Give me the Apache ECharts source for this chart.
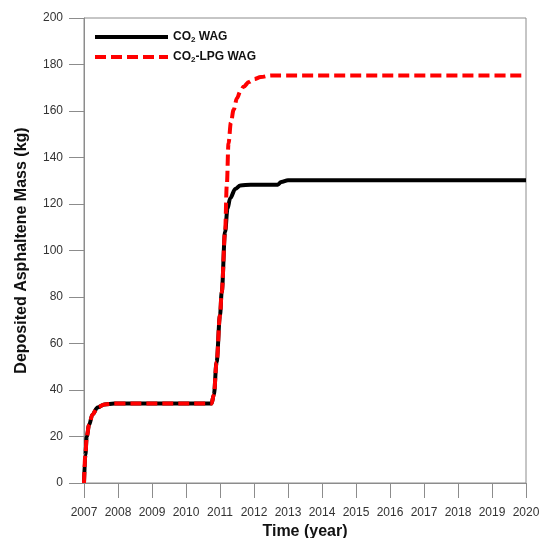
<!DOCTYPE html>
<html>
<head>
<meta charset="utf-8">
<script src="https://cdn.jsdelivr.net/npm/echarts@6/dist/echarts.min.js"></script>
<style>
  html, body { margin: 0; padding: 0; background: #fff; }
  #chart { width: 540px; height: 538px; }
</style>
</head>
<body>
<div id="chart"></div>
<script>
// Deposited asphaltene mass over time for two injection schemes
const xTicks = [2007, 2008, 2009, 2010, 2011, 2012, 2013, 2014, 2015, 2016, 2017, 2018, 2019, 2020];
const yTicks = [0, 20, 40, 60, 80, 100, 120, 140, 160, 180, 200];

const co2Years  = [2007.0, 2007.04, 2007.08, 2007.15, 2007.25, 2007.4, 2007.6, 2007.9, 2010.75, 2010.82, 2010.9, 2011.0, 2011.05, 2011.15, 2011.22, 2011.3, 2011.45, 2011.6, 2011.9, 2012.7, 2012.8, 2013.0, 2020.0];
const co2Values = [0, 12, 20, 25, 29.5, 32.5, 33.8, 34.2, 34.2, 38, 52, 72, 82, 108, 118, 122.5, 126.5, 128, 128.3, 128.3, 129.5, 130.2, 130.2];

const lpgYears  = [2007.0, 2007.04, 2007.08, 2007.15, 2007.25, 2007.4, 2007.6, 2007.9, 2010.75, 2010.82, 2010.9, 2011.0, 2011.05, 2011.15, 2011.2, 2011.25, 2011.32, 2011.4, 2011.5, 2011.6, 2011.7, 2011.85, 2012.0, 2012.2, 2012.5, 2020.0];
const lpgValues = [0, 12, 20, 25, 29.5, 32.5, 33.8, 34.2, 34.2, 38, 52, 72, 82, 108, 128, 146, 155, 160.5, 165.5, 168.5, 170.5, 172.5, 173.7, 174.6, 175.3, 175.3];

const seriesNames = ['CO2 WAG', 'CO2-LPG WAG'];
const legendLabels = {
  'CO2 WAG': '{a|CO}{s|2}{a| WAG}',
  'CO2-LPG WAG': '{a|CO}{s|2}{a|-LPG WAG}'
};

const pairs = (xs, ys) => xs.map((x, i) => [x, ys[i]]);

const FONT = '"Liberation Sans", Arial, sans-serif';
const AXIS_COLOR = '#8c8c8c';
const TICK_LEN = 15;

const chart = echarts.init(document.getElementById('chart'), null, { renderer: 'canvas' });

chart.setOption({
  animation: false,
  backgroundColor: '#ffffff',
  grid: {
    left: 84, right: 14, top: 18, bottom: 55,
    outerBoundsMode: 'none',
    containLabel: false,
    show: true, borderColor: AXIS_COLOR, borderWidth: 1, backgroundColor: 'transparent'
  },
  legend: {
    orient: 'vertical',
    left: 88, top: 26,
    itemWidth: 73, itemHeight: 10, itemGap: 7,
    data: seriesNames,
    formatter: name => legendLabels[name],
    itemStyle: { opacity: 0 },
    lineStyle: { width: 4 },
    textStyle: {
      fontFamily: FONT,
      rich: {
        a: { fontFamily: FONT, fontSize: 12, fontWeight: 'bold', color: '#111' },
        s: { fontFamily: FONT, fontSize: 8, fontWeight: 'bold', color: '#111', verticalAlign: 'bottom', padding: [6, 0, 0, 0] }
      }
    }
  },
  xAxis: {
    type: 'value',
    min: xTicks[0], max: xTicks[xTicks.length - 1], interval: 1,
    name: 'Time (year)',
    nameLocation: 'middle', nameGap: 39,
    nameTextStyle: { fontFamily: FONT, fontSize: 16, fontWeight: 'bold', color: '#111' },
    axisLine: { show: true, lineStyle: { color: AXIS_COLOR, width: 1 } },
    axisTick: { show: true, inside: false, length: TICK_LEN, lineStyle: { color: AXIS_COLOR } },
    axisLabel: { fontFamily: FONT, fontSize: 12, color: '#333', margin: TICK_LEN + 9, formatter: v => String(v) },
    splitLine: { show: false }
  },
  yAxis: {
    type: 'value',
    min: yTicks[0], max: yTicks[yTicks.length - 1], interval: 20,
    name: 'Deposited Asphaltene Mass (kg)',
    nameLocation: 'middle', nameGap: 54,
    nameTextStyle: { fontFamily: FONT, fontSize: 16, fontWeight: 'bold', color: '#111' },
    axisLine: { show: true, lineStyle: { color: AXIS_COLOR, width: 1 } },
    axisTick: { show: true, inside: false, length: TICK_LEN, lineStyle: { color: AXIS_COLOR } },
    axisLabel: { fontFamily: FONT, fontSize: 12, color: '#333', margin: TICK_LEN + 6 },
    splitLine: { show: false }
  },
  series: [
    {
      name: seriesNames[0],
      type: 'line',
      data: pairs(co2Years, co2Values),
      showSymbol: false, symbol: 'none',
      smooth: 0.35, smoothMonotone: 'x',
      lineStyle: { color: '#000000', width: 4 },
      itemStyle: { color: '#000000' },
      z: 2
    },
    {
      name: seriesNames[1],
      type: 'line',
      data: pairs(lpgYears, lpgValues),
      showSymbol: false, symbol: 'none',
      smooth: 0.35, smoothMonotone: 'x',
      lineStyle: { color: '#ff0000', width: 4, type: [11, 5], cap: 'butt' },
      itemStyle: { color: '#ff0000' },
      z: 3
    }
  ]
});
</script>
</body>
</html>
